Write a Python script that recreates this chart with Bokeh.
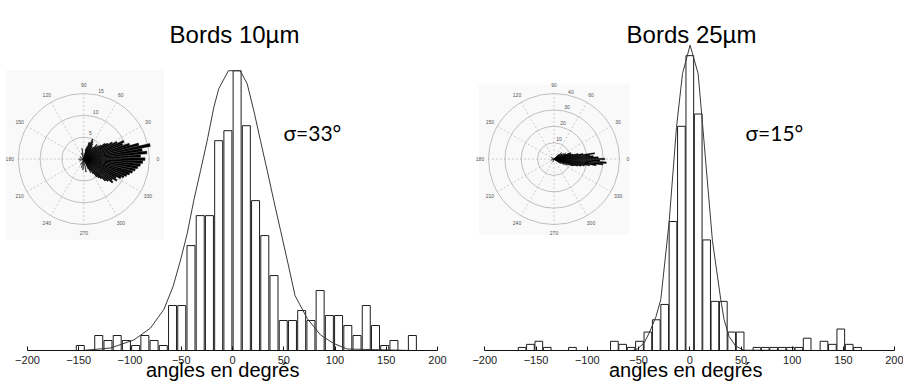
import numpy as np
from bokeh.plotting import figure
from bokeh.layouts import row
from bokeh.models import Range1d, LinearAxis, FixedTicker, Label, BoxAnnotation
from bokeh.core.properties import value
from bokeh.embed import file_html
from bokeh.resources import INLINE

# ---------------- data ----------------
tick_values = [-200, -150, -100, -50, 0, 50, 100, 150, 200]

left_bin_centers = [-175.5, -166.5, -157.5, -148.5, -139.5, -130.5, -121.5, -112.5, -103.5, -94.5,
                    -85.5, -76.5, -67.5, -58.5, -49.5, -40.5, -31.5, -22.5, -13.5, -4.5,
                    4.5, 13.5, 22.5, 31.5, 40.5, 49.5, 58.5, 67.5, 76.5, 85.5,
                    94.5, 103.5, 112.5, 121.5, 130.5, 139.5, 148.5, 157.5, 166.5, 175.5]
left_counts = [0, 0, 0, 1, 0, 3, 2, 3, 2, 1,
               3, 2, 1, 9, 9, 21, 27, 27, 42, 44,
               56, 45, 30, 23, 15, 6, 6, 8, 6, 12,
               7, 7, 5, 3, 9, 5, 1, 2, 0, 3]
left_fit_x = [-146.6, -119, -96.3, -80, -67, -58, -50.7, -44.2, -37.8, -31.2, -24.7, -18.2, -13.4,
              -4, 7.5, 14.3, 20.8, 27.3, 33.9, 40.3, 46.8, 53.4, 61, 72.9, 85.9, 98.8, 111.9, 175.9]
left_fit_y = [0, 0.5, 2.1, 4.5, 8.2, 12.8, 18.1, 23.4, 30, 36, 42, 48.7, 52.4,
              56, 56, 53.4, 48, 42, 36, 30, 24.1, 18.1, 11, 6.4, 3.1, 1.4, 0.3, 0]

right_bin_centers = [-180.0, -171.8, -163.6, -155.5, -147.3, -139.1, -130.9, -122.7, -114.5, -106.4,
                     -98.2, -90.0, -81.8, -73.6, -65.5, -57.3, -49.1, -40.9, -32.7, -24.5,
                     -16.4, -8.2, 0.0, 8.2, 16.4, 24.5, 32.7, 40.9, 49.1, 57.3,
                     65.5, 73.6, 81.8, 90.0, 98.2, 106.4, 114.5, 122.7, 130.9, 139.1,
                     147.3, 155.5, 163.6, 171.8, 180.0]
right_counts = [0, 0, 1, 2, 3, 1, 0, 0, 1, 0,
                0, 0, 0, 3, 2, 1, 3, 6, 10, 15,
                42, 73, 96, 77, 36, 16, 16, 6, 6, 0,
                1, 1, 1, 1, 1, 1, 4, 0, 3, 2,
                7, 2, 1, 0, 0]
right_fit_x = [-126, -55.8, -50.9, -44.5, -39.6, -33, -28.3, -20.2, -13, -7.1, 0.3, 8.1, 11.7,
               22.1, 30.2, 33.4, 38.3, 44.8, 52.9, 128]
right_fit_y = [0, 0, 0.55, 2.5, 5.7, 11, 16.6, 41.7, 72.6, 90.2, 99.4, 90.2, 76.6,
               35.7, 16.6, 10.1, 4.6, 1.4, 0.1, 0]

left_rose_angles = [-66, -63, -60, -57, -54, -51, -48, -45, -42, -39, -36, -33, -30, -27, -24, -21,
                    -18, -15, -12, -9, -6, -3, 0, 3, 6, 9, 12, 15, 18, 21, 24, 27, 30, 33, 36, 39,
                    42, 45, 48, 51, 54, 57, 60, 63, 66, 69, 72, 75, 78,
                    100, 110, 150, 180, 200, 240, 255, 265, 280]
left_rose_lengths = [2.5, 3.5, 3, 4, 5, 5.5, 6, 7, 7.5, 8.5, 8, 9, 8.5, 9.5, 10, 10.5,
                     11, 11.5, 12, 12.5, 13, 13.5, 14, 13, 14.5, 13.5, 15.5, 13, 11, 9.5, 10, 8.5, 7.5, 6.5, 6, 5,
                     4.5, 4, 4.5, 3.5, 3, 3.5, 4, 4.5, 5, 4, 4, 3, 2.5,
                     2.5, 1.5, 1, 1.2, 1, 1.5, 2, 2.5, 3]
right_rose_angles = [-36, -32, -28, -24, -20, -18, -16, -14, -12, -10, -8, -6, -4, -2, 0, 2, 4, 6, 8,
                     10, 12, 14, 16, 18, 20, 24, 28, 32, 36, 40, 45, 150, 200, 250]
right_rose_lengths = [4, 5, 7, 9, 12, 13, 15, 17, 19, 22, 26, 30, 32, 28, 31, 27, 24, 22, 25,
                      18, 15, 12, 11, 10, 11, 8, 7, 6, 5, 6, 4, 2, 2, 2]

left_rings = [5, 10, 15]
right_rings = [10, 20, 30, 40]
polar_angles = [0, 30, 60, 90, 120, 150, 180, 210, 240, 270, 300, 330]

titles = ["Bords 10µm", "Bords 25µm"]
sigma_texts = ["σ=33°", "σ=15°"]
x_label = "angles  en degrés"

# ---------------- layout constants (page pixels) ----------------
TOP_PX, BASE_PX, FIG_H = 0, 351, 383


def make_panel(fig_x0, frame_px, axis_px, px_per_count, centers, counts, bar_w, fit_x, fit_y,
               pol_c, pol_R, rings, rose_a, rose_l, rose_w, ring_lab_off, box,
               title, title_px, sigma, sigma_px):
    x0, x1 = frame_px
    a_px, b_px = axis_px
    k = (b_px - a_px) / 400.0
    xr = Range1d(-200 - (a_px - x0) / k, 200 + (x1 - b_px) / k)
    yr = Range1d(0, (BASE_PX - TOP_PX) / px_per_count)
    p = figure(width=int(x1 - fig_x0), height=FIG_H, x_range=xr, y_range=yr,
               output_backend="svg", toolbar_location=None,
               x_axis_location=None, y_axis_location=None,
               min_border_left=int(x0 - fig_x0), min_border_right=0, min_border_top=0,
               min_border_bottom=FIG_H + TOP_PX - BASE_PX)
    p.grid.visible = False
    p.outline_line_color = None
    p.background_fill_color = "white"
    p.border_fill_color = "white"

    # polar inset coordinate system
    Rv = rings[-1]
    s = pol_R / Rv
    cx, cy = pol_c
    p.extra_x_ranges["pol_x"] = Range1d((x0 - cx) / s, (x1 - cx) / s)
    p.extra_y_ranges["pol_y"] = Range1d((cy - BASE_PX) / s, (cy - TOP_PX) / s)
    p.extra_x_ranges["ref_x"] = Range1d(x0, x1)
    p.extra_y_ranges["ref_y"] = Range1d(BASE_PX, TOP_PX)
    pk = dict(x_range_name="pol_x", y_range_name="pol_y")

    p.add_layout(BoxAnnotation(left=box[0] * Rv, right=box[1] * Rv, bottom=box[2] * Rv, top=box[3] * Rv,
                               fill_color="#f9f9f9", fill_alpha=1.0, line_color=None,
                               level="underlay", **pk))

    n = len(rings)
    p.circle(x=[0] * n, y=[0] * n, radius=rings, fill_color=None, line_color="#b0b0b0",
             line_width=0.8, **pk)
    th = np.radians(polar_angles)
    p.segment(x0=[0] * len(th), y0=[0] * len(th), x1=Rv * np.cos(th), y1=Rv * np.sin(th),
              line_color="#b8b8b8", line_width=0.7, line_dash="2 2", **pk)
    p.text(x=1.13 * Rv * np.cos(th), y=1.13 * Rv * np.sin(th), text=[str(a) for a in polar_angles],
           text_align="center", text_baseline="middle", text_font=value("Liberation Sans"),
           text_font_size="5px", text_color="#555555", **pk)
    rth = np.radians(76)
    rl = np.array(rings, dtype=float) + ring_lab_off
    p.text(x=rl * np.cos(rth), y=rl * np.sin(rth), text=[str(r) for r in rings],
           text_align="center", text_baseline="middle", text_font=value("Liberation Sans"),
           text_font_size="5px", text_color="#555555", **pk)

    ra = np.radians(np.array(rose_a, dtype=float))
    hw = np.radians(rose_w) / 2
    p.wedge(x=[0] * len(ra), y=[0] * len(ra), radius=rose_l, start_angle=ra - hw,
            end_angle=ra + hw, fill_color="black",
            line_color="black", line_width=0.4, **pk)

    # histogram
    keep = [i for i, c in enumerate(counts) if c > 0]
    p.vbar(x=[centers[i] for i in keep], top=[counts[i] for i in keep], width=bar_w, bottom=0,
           fill_color="white", line_color="#1e1e1e", line_width=1)
    p.line(fit_x, fit_y, line_color="#3a3a3a", line_width=1)

    ax = LinearAxis(bounds=(-200, 200), ticker=FixedTicker(ticks=tick_values),
                    major_tick_in=4, major_tick_out=0, minor_tick_line_color=None,
                    axis_line_color="#111111", major_tick_line_color="#111111",
                    major_label_text_font="Liberation Sans", major_label_text_font_size="11px",
                    major_label_text_color="#222222", major_label_standoff=5,
                    axis_label=x_label, axis_label_standoff=-8,
                    axis_label_text_font="Liberation Sans", axis_label_text_font_size="20px",
                    axis_label_text_font_style="normal", axis_label_text_color="black")
    p.add_layout(ax, "below")

    rk = dict(x_range_name="ref_x", y_range_name="ref_y", text_baseline="alphabetic")
    p.add_layout(Label(x=title_px[0], y=title_px[1], text=title, text_align="center",
                       text_font="Liberation Sans", text_font_size="24px", text_color="black", **rk))
    p.add_layout(Label(x=sigma_px[0], y=sigma_px[1], text=sigma, text_align="left",
                       text_font="Lato", text_font_size="21px", text_color="black", **rk))
    return p


p_left = make_panel(0, (0, 450), (27, 437), 5.01, left_bin_centers, left_counts, 7.8,
                    left_fit_x, left_fit_y, (83.3, 159), 65.5, left_rings,
                    left_rose_angles, left_rose_lengths, 2.6, 1.2, (-1.19, 1.22, -1.24, 1.36),
                    titles[0], (234, 34), sigma_texts[0], (283, 132))
p_right = make_panel(450, (473, 903), (484.3, 894.3), 3.08, right_bin_centers, right_counts, 7.5,
                     right_fit_x, right_fit_y, (553.5, 159), 65.5, right_rings,
                     right_rose_angles, right_rose_lengths, 1.8, 2.6, (-1.15, 1.15, -1.16, 1.14),
                     titles[1], (691, 34), sigma_texts[1], (745, 132))

layout = row(p_left, p_right)
open("out.html", "w").write(file_html(layout, INLINE))
